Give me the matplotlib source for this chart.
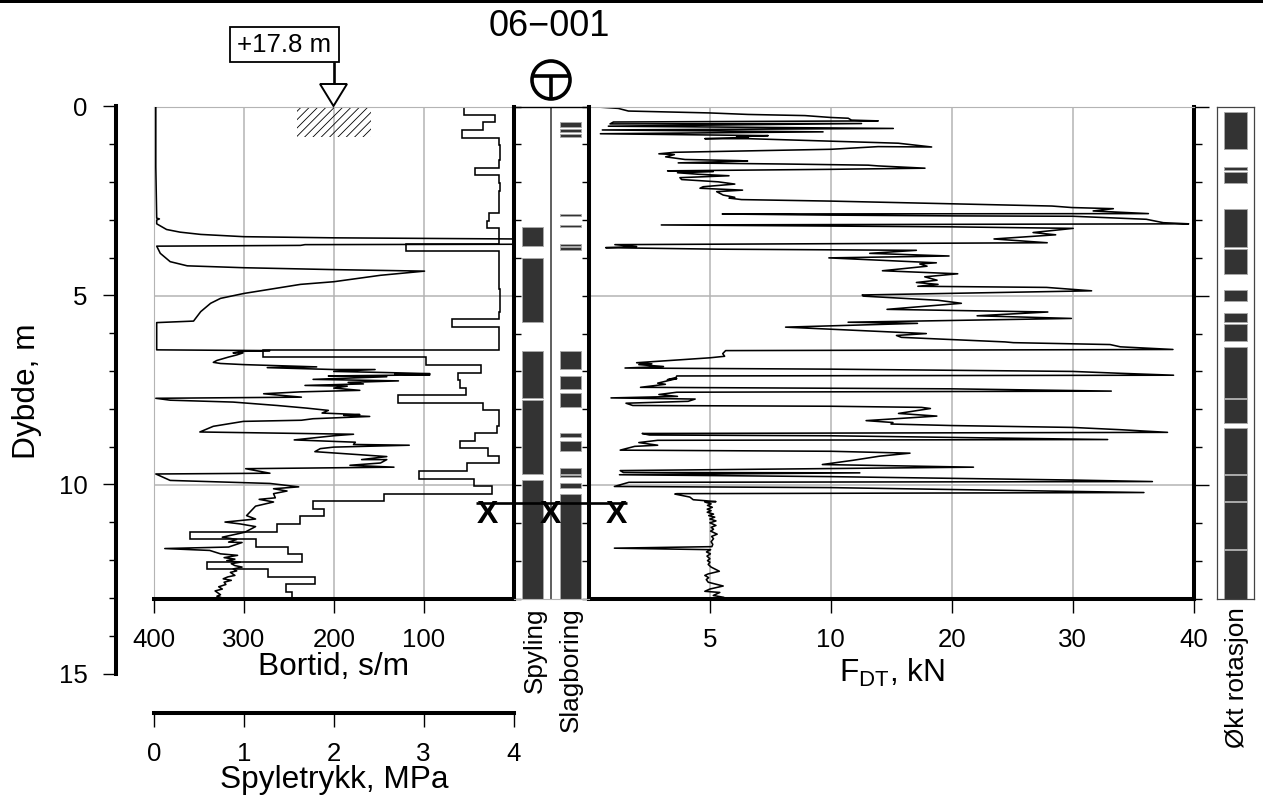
import numpy as np
import matplotlib
matplotlib.use("Agg")
import matplotlib.pyplot as plt
from matplotlib.patches import Circle, Polygon, Rectangle

plt.rcParams["font.family"] = ["Liberation Sans", "DejaVu Sans"]
plt.rcParams["mathtext.fontset"] = "custom"
plt.rcParams["mathtext.rm"] = "Liberation Sans"
plt.rcParams["hatch.linewidth"] = 0.6
plt.rcParams["hatch.color"] = "#555555"

# bortid, s/m, one value per depth step
bortid_edges = [0.0, 0.22, 0.42, 0.62, 0.82, 1.02, 1.22, 1.42, 1.62, 1.82, 2.02, 2.22, 2.42, 2.62,
                2.82, 3.02, 3.22, 3.42, 3.62, 3.82, 4.02, 4.22, 4.42, 4.62, 4.82, 5.02, 5.22, 5.42,
                5.62, 5.82, 6.02, 6.22, 6.43, 6.63, 6.83, 7.03, 7.23, 7.43, 7.63, 7.83, 8.03, 8.23,
                8.43, 8.63, 8.83, 9.03, 9.23, 9.43, 9.63, 9.83, 10.03, 10.23, 10.43, 10.63, 10.83,
                11.03, 11.23, 11.43, 11.63, 11.83, 12.03, 12.23, 12.43, 12.63, 12.83, 13.0]
bortid_vals = [55, 21, 34, 57, 16, 15, 15, 16, 43, 16, 15, 16, 16, 16, 27, 30, 16, 16, 120, 16, 16,
               16, 16, 16, 15, 15, 15, 16, 68, 16, 16, 16, 279, 97, 36, 62, 60, 53, 128, 34, 16, 16,
               18, 43, 60, 28, 16, 52, 105, 44, 24, 144, 223, 211, 238, 263, 360, 286, 251, 235,
               341, 273, 221, 253, 246]

# spyletrykk, MPa
spyle_mpa = [.02, .02, .03, .06, .03, .03, .14, .29, .52, 1.0, 2.0, 4.0, 4.0, 1.68, 1.63, .03, .07,
             .18, .37, 1.0, 2.0, 3.01, 2.52, 2.0, 1.63, 1.0, .74, .63, .52, .44, .03, .03, 1.29, .98,
             .88, .99, .92, .83, .70, .66, .74, 1.0, 1.81, 1.26, 2.0, 2.46, 2.0, 2.59, 3.07, 2.68,
             3.07, 1.94, 2.59, 1.77, 2.72, 2.16, 2.33, 1.68, 2.15, 2.0, 2.29, 1.63, 1.22, 1.64, .02,
             .18, .88, 1.37, 1.70, 1.94, 1.87, 2.29, 2.11, 2.40, 1.77, 1.64, .995, .66, .51, 2.22,
             2.0, 1.56, 2.0, 2.24, 2.22, 2.84, 2.0, 1.85, 1.79, 2.22, 2.59, 2.31, 2.59, 2.52, 2.18,
             2.67, 1.02, 1.29, .02, .18, 1.29, 1.61, 1.33, 1.48, 1.33, 1.35, 1.17, 1.33, 1.13, 1.03,
             1.13, .79, .96, 1.13, 1.01, .76, .92, .83, .98, .83, .12, .62, .74,
             .93, .78, .9, .81, .96, .86, .90, .98, .88, .92, .85, .90, .82, .77, .86, .78, .80, .72,
             .76, .68, .74, .70, .74]
spyle_depth = [0, 1.59, 2.95, 2.97, 3.0, 3.10, 3.25, 3.32, 3.38, 3.44, 3.47, 3.50, 3.64, 3.65, 3.67,
               3.69, 3.88, 4.10, 4.21, 4.26, 4.31, 4.35, 4.46, 4.63, 4.70, 4.94, 5.07, 5.20, 5.42,
               5.67, 5.71, 6.43, 6.45, 6.47, 6.51, 6.51, 6.565, 6.62, 6.71, 6.76, 6.79, 6.82, 6.88,
               6.90, 6.95, 6.95, 7.0, 7.03, 7.06, 7.07, 7.09, 7.12, 7.14, 7.21, 7.25, 7.29, 7.33,
               7.37, 7.39, 7.44, 7.50, 7.54, 7.59, 7.68, 7.71, 7.76, 7.81, 7.90, 7.97, 8.03, 8.10,
               8.14, 8.16, 8.19, 8.25, 8.29, 8.32, 8.45, 8.60, 8.66, 8.70, 8.81, 8.85, 8.87, 8.93,
               8.95, 9.0, 9.04, 9.12, 9.19, 9.25, 9.33, 9.33, 9.42, 9.48, 9.53, 9.57, 9.69, 9.71,
               9.88, 9.96, 10.05, 10.10, 10.16, 10.23, 10.34, 10.38, 10.45, 10.56, 10.81, 10.90,
               10.98, 11.03, 11.10, 11.25, 11.38, 11.44, 11.51, 11.52, 11.64, 11.68, 11.73, 11.82,
               11.86, 11.92, 11.96, 12.0, 12.04, 12.08, 12.13, 12.17, 12.22, 12.27, 12.31, 12.39, 12.43,
               12.48, 12.52, 12.57, 12.63, 12.69, 12.75, 12.8, 12.9, 12.94, 12.97]

# nedpressing F_DT, kN
fdt_kn = [.04, 1.21, 1.63, 4.99, 6.58, 8.93, 10, 11.44, 11.71, 13.92, 1.01, .87, 12.54, .80, 15.17,
          .55, 9.68, .47, 7.41, 6.10, 6.58, 4.79, 6.58, 8.65, 13.65, 15.58, 17.24, 18.34, 13.92, 10.06,
          6.72, 3.55, 2.89, 3.53, 3.17, 3.97, 6.17, 6.56, 3.69, 8.10, 13.09, 13.92, 17.79, 10.06, 6.72,
          3.25, 5.14, 3.66, 4.52, 5.79, 3.76, 3.83, 5.34, 6.03, 4.72, 4.59, 6.35, 5.28, 5.55, 6.03,
          5.79, 6.31, 10.06, 20.0, 28.29, 29.94, 33.37, 31.7, 36.27, 5.51, 10, 20, 30, 36.1, 37.5,
          39.6, 2.99, 10, 20, 30.05, 26.73, 28.6, 23.5, 27.9, 1.07, 1.97, .69, 5.34, 17.08, 13.22,
          19.78, 9.92, 18.73, 17.36, 17.96, 14.27, 20.5, 17.77, 18.79, 17.08, 18.87, 17.2, 27.85,
          29.97, 31.57, 12.6, 12.67, 18.87, 20.8, 14.65, 24.4, 27.95, 22.1, 29.9, 11.43, 17.17, 8.13,
          17.9, 15.43, 15.84, 24.4, 25.1, 33.1, 33.95, 38.3, 5.65, 5.53, 5.61, 5.0, 1.97, 2.6, 2.06,
          3.08, 1.49, 10, 30, 33.97, 38.35, 3.63, 3.6, 3.24, 3.63, 2.84, 3.16, 2.13, 20, 33.2, 3.63,
          2.89, 3.66, .91, 4.39, 4.1, 1.53, 1.81, 10, 17.5, 18.24, 15.6, 18.77, 12.92, 15.14, 14.98,
          20, 30, 33.97, 37.85, 2.2, 2.5, 10, 32.9, 2.84, 2.06, 2.84, 1.89, 1.29, 10, 16.55, 14.02,
          11.8, 9.65, 21.8, 1.29, 1.42, 12.4, 1.26, 10, 30, 36.6, 1.65, 1.05, 10, 30, 35.9, 3.63,
          3.55, 4.17, 4.31,
          5.25, 4.79, 5.05, 4.9, 5.1, 4.89, 5.05, 4.89, 5.15, 4.95,
          5.2, 5.0, 5.25, 5.0, 5.25, 5.05, 5.15, 5.03, 5.30, 5.07,
          5.15, 5.05, 5.12, 5.08, 1.05, 5.03, 4.86, 5.02, 4.88, 5.0,
          4.9, 5.0, 4.93, 5.05, 5.39, 4.93, 4.79, 4.95, 4.85, 4.93,
          5.55, 5.0, 4.79, 5.41, 5.14, 5.58, 5.28]
fdt_depth = [0, .05, .12, .17, .21, .24, .29, .31, .36, .38, .41, .46, .45, .52, .58, .62, .67, .72,
             .77, .80, .82, .85, .85, .89, .95, .97, 1.03, 1.07, 1.06, 1.13, 1.17, 1.21, 1.25, 1.27,
             1.33, 1.40, 1.43, 1.44, 1.49, 1.52, 1.55, 1.57, 1.63, 1.66, 1.68, 1.70, 1.72, 1.75, 1.79,
             1.83, 1.88, 1.93, 1.99, 2.05, 2.12, 2.16, 2.21, 2.25, 2.34, 2.40, 2.42, 2.46, 2.50, 2.57,
             2.63, 2.67, 2.70, 2.76, 2.83, 2.84, 2.87, 2.89, 2.90, 2.98, 3.07, 3.10, 3.13, 3.16, 3.18,
             3.22, 3.33, 3.39, 3.50, 3.60, 3.65, 3.70, 3.73, 3.77, 3.80, 3.88, 3.95, 4.00, 4.13, 4.16,
             4.22, 4.34, 4.42, 4.50, 4.59, 4.65, 4.70, 4.75, 4.78, 4.83, 4.87, 4.98, 5.01, 5.12, 5.20,
             5.36, 5.41, 5.43, 5.53, 5.60, 5.70, 5.73, 5.83, 6.00, 6.05, 6.10, 6.22, 6.24, 6.29, 6.35,
             6.42, 6.45, 6.53, 6.60, 6.64, 6.77, 6.80, 6.82, 6.87, 6.91, 6.94, 7.00, 7.05, 7.10, 7.12,
             7.16, 7.22, 7.19, 7.31, 7.34, 7.42, 7.46, 7.52, 7.55, 7.61, 7.66, 7.70, 7.73, 7.79, 7.84,
             7.90, 7.92, 7.95, 7.98, 8.11, 8.18, 8.30, 8.35, 8.39, 8.43, 8.48, 8.54, 8.61, 8.64, 8.68,
             8.70, 8.80, 8.82, 8.88, 8.95, 8.98, 9.08, 9.11, 9.16, 9.24, 9.35, 9.46, 9.53, 9.62, 9.67,
             9.68, 9.73, 9.78, 9.87, 9.91, 9.93, 10.04, 10.07, 10.17, 10.20, 10.23, 10.24, 10.32, 10.39,
             10.44, 10.45, 10.50, 10.54, 10.59, 10.64, 10.68, 10.72, 10.77, 10.81,
             10.85, 10.90, 10.95, 11.0, 11.07, 11.12, 11.17, 11.22, 11.30, 11.36,
             11.42, 11.5, 11.57, 11.63, 11.67, 11.71, 11.77, 11.82, 11.88, 11.95,
             12.0, 12.04, 12.1, 12.17, 12.28, 12.35, 12.39, 12.45, 12.5, 12.57,
             12.67, 12.75, 12.81, 12.84, 12.92, 12.97, 13.0]

# intervals (from, to) in m
spyling = [(3.18, 3.69), (3.99, 5.69), (6.46, 7.70), (7.76, 9.70), (9.86, 13.0)]
slagboring = [(.41, .55), (.60, .68), (.73, .80), (2.85, 2.90), (3.13, 3.18), (3.64, 3.69), (3.72, 3.78),
              (6.46, 6.94), (7.13, 7.47), (7.56, 7.94), (8.64, 8.74), (8.84, 9.11), (9.56, 9.70),
              (9.73, 9.80), (9.94, 10.07), (10.24, 13.0)]
rotasjon = [(.14, 1.13), (1.61, 1.69), (1.73, 2.03), (2.72, 3.72), (3.77, 4.43), (4.85, 5.14), (5.45, 5.70),
            (5.74, 6.20), (6.35, 7.69), (7.74, 8.37), (8.50, 9.70), (9.74, 10.42), (10.46, 11.68), (11.71, 13.0)]

bortid_ticks = [400, 300, 200, 100]
spyle_ticks = [0, 1, 2, 3, 4]
fdt_ticks = [5, 10, 20, 30, 40]
fdt_stops = [0, 5, 10, 20, 30, 40]
depth_major = [0, 5, 10, 15]

W, H = 1263, 805
GRID = "#b4b4b4"
BAR = "#333333"
THICK = 2.9
TICK_FS = 18.6
LABEL_FS = 22.8


def px_axes(fig, left, top, right, bottom):
    return fig.add_axes([left / W, 1 - bottom / H, (right - left) / W, (bottom - top) / H])


def draw_intervals(ax, x, width, intervals):
    for start, end in intervals:
        ax.bar(x, end - start, width, bottom=start, color=BAR, edgecolor="#a8a8a8", linewidth=0.7)


def fdt_forward(v):
    return np.interp(v, fdt_stops, np.arange(len(fdt_stops)))


def fdt_inverse(v):
    return np.interp(v, np.arange(len(fdt_stops)), fdt_stops)


fig = plt.figure(figsize=(W / 100, H / 100), dpi=100)
TOP, BOTTOM = 106.5, 598.5

# venstre panel, bortid og spyletrykk
ax_bort = px_axes(fig, 154, TOP, 513.5, BOTTOM)
ax_spy = ax_bort.twiny()
ax_bort.set_zorder(1)
ax_spy.set_zorder(2)
ax_spy.patch.set_visible(False)
ax_bort.set_ylim(13, 0)
ax_bort.set_xlim(400, 0)
ax_spy.set_xlim(0, 4)
ax_bort.set_xticks(bortid_ticks)
ax_bort.set_yticks([5, 10])
ax_bort.grid(True, color=GRID, lw=1.1)
ax_bort.set_axisbelow(True)
ax_bort.tick_params(axis="x", length=10, width=1, pad=11, labelsize=TICK_FS)
ax_bort.tick_params(axis="y", length=0, labelleft=False)
ax_spy.set_xticks([])
ax_bort.stairs(bortid_vals, bortid_edges, orientation="horizontal", baseline=None, color="black", lw=1.15)
ax_spy.plot(spyle_mpa, spyle_depth, color="black", lw=1.15)
ax_bort.add_patch(Rectangle((159, 0), 240.7 - 159, 0.8, fill=False, hatch="////", lw=0))
for ax in (ax_bort, ax_spy):
    for s in ax.spines.values():
        s.set_visible(False)
ax_bort.spines["left"].set_visible(True)
ax_bort.spines["left"].set_color(GRID)
ax_bort.spines["top"].set_visible(True)
ax_bort.spines["top"].set_color(GRID)
ax_bort.spines["bottom"].set_visible(True)
ax_bort.spines["bottom"].set_linewidth(THICK)

# dybdeakse
ax_depth = px_axes(fig, 116, TOP, 117, 673.5)
ax_depth.set_ylim(15, 0)
ax_depth.set_xticks([])
ax_depth.set_yticks(depth_major)
ax_depth.set_yticks([d for d in range(16) if d not in depth_major], minor=True)
ax_depth.tick_params(axis="y", which="major", length=9.5, width=1, pad=11, labelsize=TICK_FS)
ax_depth.tick_params(axis="y", which="minor", length=5, width=1)
for name, s in ax_depth.spines.items():
    s.set_visible(name == "left")
ax_depth.spines["left"].set_linewidth(THICK)
ax_depth.patch.set_visible(False)

# spyletrykk-akse
ax_press = px_axes(fig, 154, 711, 513.5, 712.5)
ax_press.set_xlim(0, 4)
ax_press.set_yticks([])
ax_press.set_xticks(spyle_ticks)
ax_press.tick_params(axis="x", length=10, width=1, pad=11, labelsize=TICK_FS)
for name, s in ax_press.spines.items():
    s.set_visible(name == "bottom")
ax_press.spines["bottom"].set_linewidth(THICK)

# Spyling / Slagboring
ax_strip = px_axes(fig, 513.5, TOP, 589, BOTTOM)
ax_strip.set_zorder(3)
ax_strip.set_ylim(13, 0)
ax_strip.set_xlim(0, 2)
ax_strip.set_xticks([])
ax_strip.set_yticks(range(14))
ax_strip.tick_params(axis="y", direction="in", left=True, right=True, length=5, width=1, labelleft=False)
ax_strip.axvline(1, color="#444444", lw=1.2)
draw_intervals(ax_strip, 0.5, 0.556, spyling)
draw_intervals(ax_strip, 1.5, 0.556, slagboring)
ax_strip.set_ylim(13, 0)
ax_strip.spines["left"].set_linewidth(THICK)
ax_strip.spines["right"].set_linewidth(THICK)
ax_strip.spines["top"].set_linewidth(1.0)
ax_strip.spines["bottom"].set_color(GRID)
ax_strip.patch.set_visible(False)

# F_DT
ax_f = px_axes(fig, 589, TOP, 1193.5, BOTTOM)
ax_f.set_xscale("function", functions=(fdt_forward, fdt_inverse))
ax_f.set_xlim(0, 40)
ax_f.set_ylim(13, 0)
ax_f.set_xticks(fdt_ticks)
ax_f.set_xticklabels([str(t) for t in fdt_ticks])
ax_f.xaxis.set_minor_locator(plt.NullLocator())
ax_f.set_yticks([0, 5, 10])
ax_f.set_yticks([1, 2, 3, 4, 6, 7, 8, 9, 11, 12, 13], minor=True)
ax_f.yaxis.tick_right()
ax_f.grid(True, color=GRID, lw=1.1)
ax_f.set_axisbelow(True)
ax_f.tick_params(axis="x", length=10, width=1, pad=11, labelsize=TICK_FS)
ax_f.tick_params(axis="y", which="major", length=10.5, width=1, labelright=False)
ax_f.tick_params(axis="y", which="minor", length=5.5, width=1)
ax_f.plot(fdt_kn, fdt_depth, color="black", lw=1.15)
ax_f.spines["left"].set_visible(False)
ax_f.spines["top"].set_color(GRID)
ax_f.spines["right"].set_linewidth(THICK)
ax_f.spines["bottom"].set_linewidth(THICK)

# Økt rotasjon
ax_rot = px_axes(fig, 1217, TOP, 1254, BOTTOM)
ax_rot.set_xlim(0, 1)
draw_intervals(ax_rot, 0.5, 0.595, rotasjon)
ax_rot.set_ylim(13, 0)
ax_rot.set_xticks([])
ax_rot.set_yticks([])
for s in ax_rot.spines.values():
    s.set_linewidth(0.9)
    s.set_color("#444444")

# tekst og symboler over alt annet
over = fig.add_axes([0, 0, 1, 1], zorder=10)
over.set_xlim(0, W)
over.set_ylim(H, 0)
over.axis("off")
over.add_patch(Rectangle((0, 0), W, 2.6, color="black", lw=0))
over.text(549, 26, "06\u2212001", fontsize=26, ha="center", va="center")
over.add_patch(Circle((551, 80), 19, fill=False, ec="black", lw=2.6))
over.plot([532, 570], [76, 76], color="black", lw=2.6, solid_capstyle="butt")
over.plot([551, 551], [76, 99], color="black", lw=2.6, solid_capstyle="butt")

over.add_patch(Rectangle((230, 27), 109, 35, fc="white", ec="black", lw=1.3))
over.text(284.5, 45.5, "+17.8 m", fontsize=18.6, ha="center", va="center")
over.plot([333.5, 333.5], [62, 84], color="black", lw=1.9, solid_capstyle="butt")
over.add_patch(Polygon([(320, 84), (347, 84), (333.5, 106)], closed=True, fc="white", ec="black", lw=1.4))

over.plot([476, 627], [503, 503], color="black", lw=1.9, solid_capstyle="butt")
for x_mark in [487, 550, 616.5]:
    over.text(x_mark, 515, "X", fontsize=23, fontweight="bold", ha="center", va="center")

over.text(27, 391, "Dybde, m", fontsize=LABEL_FS, rotation=90, ha="center", va="center")
over.text(334, 667, "Bortid, s/m", fontsize=LABEL_FS, ha="center", va="center")
over.text(334, 780, "Spyletrykk, MPa", fontsize=LABEL_FS, ha="center", va="center")
over.text(892, 673, r"F$_{\mathrm{DT}}$, kN", fontsize=LABEL_FS, ha="center", va="center")
over.text(535, 607, "Spyling", fontsize=18.8, rotation=90, ha="center", va="top")
over.text(571, 607, "Slagboring", fontsize=18.8, rotation=90, ha="center", va="top")
over.text(1237, 607, "Økt rotasjon", fontsize=18.8, rotation=90, ha="center", va="top")

fig.savefig("out.png", dpi=100)
